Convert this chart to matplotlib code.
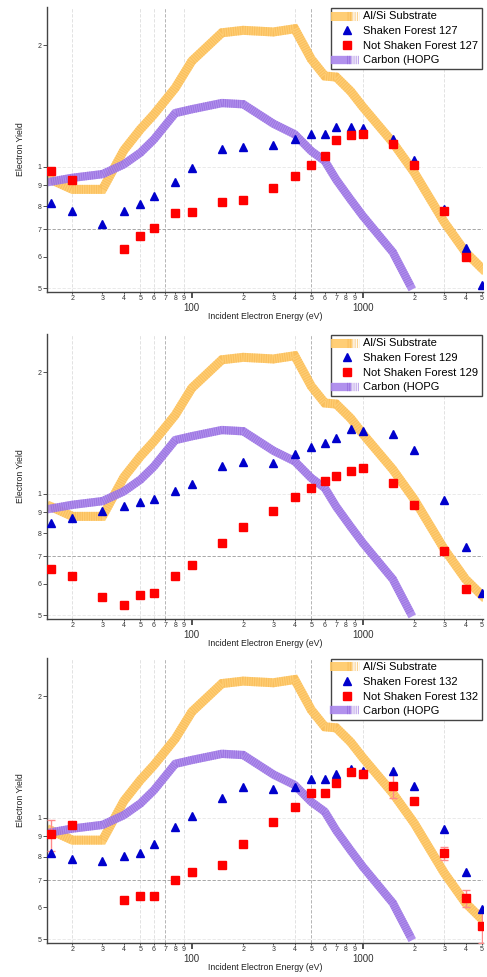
import matplotlib
matplotlib.use("Agg")
import matplotlib.pyplot as plt
from matplotlib.ticker import FixedLocator, FixedFormatter
from matplotlib.legend_handler import HandlerTuple

plt.rcParams["font.family"] = ["Liberation Sans", "DejaVu Sans"]

# Reference curves (same on every panel)
SUB_E = [15, 20, 30, 40, 50, 60, 80, 100, 150, 200, 300, 400, 500, 600, 700,
         850, 1000, 1500, 2000, 3000, 4000, 5000]
SUB_Y = [0.93, 0.88, 0.88, 1.10, 1.24, 1.35, 1.57, 1.83, 2.15, 2.18, 2.16, 2.20,
         1.85, 1.68, 1.67, 1.54, 1.41, 1.15, 0.97, 0.73, 0.615, 0.56]

HOPG_E = [15, 20, 30, 40, 50, 60, 80, 100, 150, 200, 300, 400, 500, 600, 700,
          850, 1000, 1500, 1900]
HOPG_Y = [0.92, 0.94, 0.96, 1.015, 1.085, 1.17, 1.36, 1.39, 1.44, 1.43, 1.28,
          1.205, 1.095, 1.035, 0.93, 0.83, 0.757, 0.615, 0.508]

# Forest 127
F127_SH_E = [15, 20, 30, 40, 50, 60, 80, 100, 150, 200, 300, 400, 500, 600, 700,
             850, 1000, 1500, 2000, 3000, 4000, 5000]
F127_SH_Y = [0.814, 0.776, 0.722, 0.779, 0.810, 0.845, 0.917, 0.994, 1.106, 1.123,
             1.131, 1.175, 1.204, 1.209, 1.256, 1.256, 1.246, 1.171, 1.041, 0.789,
             0.629, 0.510]
F127_NS_E = [15, 20, 40, 50, 60, 80, 100, 150, 200, 300, 400, 500, 600, 700,
             850, 1000, 1500, 2000, 3000, 4000]
F127_NS_Y = [0.977, 0.931, 0.626, 0.675, 0.707, 0.770, 0.774, 0.817, 0.828, 0.886,
             0.950, 1.010, 1.065, 1.164, 1.202, 1.209, 1.138, 1.014, 0.777, 0.597]

# Forest 129
F129_SH_E = [15, 20, 30, 40, 50, 60, 80, 100, 150, 200, 300, 400, 500, 600, 700,
             850, 1000, 1500, 2000, 3000, 4000, 5000]
F129_SH_Y = [0.849, 0.872, 0.909, 0.936, 0.955, 0.972, 1.019, 1.058, 1.172, 1.199,
             1.190, 1.259, 1.309, 1.339, 1.375, 1.449, 1.432, 1.411, 1.284, 0.966,
             0.738, 0.567]
F129_NS_E = [15, 20, 30, 40, 50, 60, 80, 100, 150, 200, 300, 400, 500, 600, 700,
             850, 1000, 1500, 2000, 3000, 4000]
F129_NS_Y = [0.651, 0.628, 0.557, 0.530, 0.561, 0.570, 0.627, 0.668, 0.755, 0.827,
             0.908, 0.983, 1.032, 1.079, 1.105, 1.137, 1.157, 1.065, 0.941, 0.722,
             0.581]

# Forest 132
F132_SH_E = [15, 20, 30, 40, 50, 60, 80, 100, 150, 200, 300, 400, 500, 600, 700,
             850, 1000, 1500, 2000, 3000, 4000, 5000]
F132_SH_Y = [0.816, 0.792, 0.782, 0.803, 0.820, 0.861, 0.946, 1.010, 1.120, 1.190,
             1.179, 1.190, 1.246, 1.246, 1.284, 1.319, 1.309, 1.304, 1.197, 0.938,
             0.733, 0.593]
F132_NS_E = [15, 20, 40, 50, 60, 80, 100, 150, 200, 300, 400, 500, 600, 700,
             850, 1000, 1500, 2000, 3000, 4000, 5000]
F132_NS_Y = [0.909, 0.959, 0.626, 0.639, 0.639, 0.703, 0.733, 0.765, 0.863, 0.976,
             1.064, 1.153, 1.153, 1.216, 1.297, 1.284, 1.197, 1.099, 0.816, 0.632,
             0.540]
F132_NS_ERR = [0.08, 0.0, 0.0, 0.0, 0.0, 0.0, 0.015, 0.0, 0.0, 0.0,
               0.0, 0.0, 0.0, 0.0, 0.02, 0.03, 0.08, 0.0, 0.03, 0.03, 0.05]

PANELS = [
    ("127", F127_SH_E, F127_SH_Y, F127_NS_E, F127_NS_Y, None),
    ("129", F129_SH_E, F129_SH_Y, F129_NS_E, F129_NS_Y, None),
    ("132", F132_SH_E, F132_SH_Y, F132_NS_E, F132_NS_Y, F132_NS_ERR),
]

X_MINOR = [20, 30, 40, 50, 60, 70, 80, 90, 200, 300, 400, 500, 600, 700, 800, 900,
           2000, 3000, 4000, 5000]
X_MINOR_LBL = ["2", "3", "4", "5", "6", "7", "8", "9", "2", "3", "4", "5", "6", "7",
               "8", "9", "2", "3", "4", "5"]
Y_MINOR = [0.5, 0.6, 0.7, 0.8, 0.9]
Y_MINOR_LBL = ["5", "6", "7", "8", "9"]

ORANGE = "#FFC966"
ORANGE_D = "#F7B64E"
PURPLE = "#A985EC"
PURPLE_D = "#8F63DA"


def hatched_line(ax, x, y, base, dark, lw):
    l1, = ax.plot(x, y, color=base, lw=lw, alpha=0.9, solid_joinstyle="miter",
                  zorder=2)
    l2, = ax.plot(x, y, color=dark, lw=lw, alpha=0.6, dashes=(0.13, 0.13),
                  dash_capstyle="butt", zorder=2)
    return (l1, l2)


fig = plt.figure(figsize=(4.87, 9.77), dpi=100)
bottoms = [0.7011, 0.3664, 0.035]
height = 0.2917

for (num, sh_e, sh_y, ns_e, ns_y, ns_err), b in zip(PANELS, bottoms):
    ax = fig.add_axes([0.0965, b, 0.895, height])
    ax.set_xscale("log")
    ax.set_yscale("log")
    ax.set_xlim(14.2, 5050)
    ax.set_ylim(0.49, 2.49)

    # faint grid lines
    for xv in [20, 50, 60, 90, 400, 1000, 3000]:
        ax.axvline(xv, color="#dddddd", lw=0.6, ls=(0, (4, 2)), zorder=0)
    for xv in [70, 500]:
        ax.axvline(xv, color="#aaaaaa", lw=0.6, ls=(0, (4, 2)), zorder=0)
    ax.axhline(0.7, color="#999999", lw=0.6, ls=(0, (4, 2)), zorder=0)
    for yv in [0.5, 1.0]:
        ax.axhline(yv, color="#e6e6e6", lw=0.6, ls=(0, (4, 2)), zorder=0)

    h_sub = hatched_line(ax, SUB_E, SUB_Y, ORANGE, ORANGE_D, 6.5)
    h_hopg = hatched_line(ax, HOPG_E, HOPG_Y, PURPLE, PURPLE_D, 6.0)

    h_sh, = ax.plot(sh_e, sh_y, ls="none", marker="^", ms=5.5, color="#0000CC",
                    mec="#0000CC", zorder=4)
    if ns_err is not None:
        ax.errorbar(ns_e, ns_y, yerr=ns_err, ls="none", ecolor="#FF8A8A",
                    elinewidth=1.0, capsize=3, capthick=1.0, zorder=3)
    h_ns, = ax.plot(ns_e, ns_y, ls="none", marker="s", ms=5.5, color="#FF0000",
                    mec="#FF0000", zorder=5)

    ax.xaxis.set_major_locator(FixedLocator([100, 1000]))
    ax.xaxis.set_major_formatter(FixedFormatter(["100", "1000"]))
    ax.xaxis.set_minor_locator(FixedLocator(X_MINOR))
    ax.xaxis.set_minor_formatter(FixedFormatter(X_MINOR_LBL))
    ax.yaxis.set_major_locator(FixedLocator([1, 2]))
    ax.yaxis.set_major_formatter(FixedFormatter(["1", "2"]))
    ax.yaxis.set_minor_locator(FixedLocator(Y_MINOR))
    ax.yaxis.set_minor_formatter(FixedFormatter(Y_MINOR_LBL))

    ax.tick_params(axis="x", which="major", length=4, width=1.2, labelsize=7,
                   pad=4.2, colors="#333333")
    ax.tick_params(axis="x", which="minor", length=1.5, width=0.6, labelsize=5,
                   pad=1, colors="#333333")
    ax.tick_params(axis="y", which="major", length=3, width=0.6, labelsize=5,
                   pad=1, colors="#333333")
    ax.tick_params(axis="y", which="minor", length=3, width=0.6, labelsize=5,
                   pad=1, colors="#333333")

    for side in ["top", "right"]:
        ax.spines[side].set_visible(False)
    for side in ["left", "bottom"]:
        ax.spines[side].set_color("#444444")
        ax.spines[side].set_linewidth(1.0)

    ax.set_ylabel("Electron Yield", fontsize=6.3, labelpad=9, color="#222222")
    ax.set_xlabel("Incident Electron Energy (eV)", fontsize=6.3, labelpad=-1,
                  color="#222222")

    leg = ax.legend([h_sub, h_sh, h_ns, h_hopg],
                    ["Al/Si Substrate", "Shaken Forest " + num,
                     "Not Shaken Forest " + num, "Carbon (HOPG"],
                    handler_map={tuple: HandlerTuple(ndivide=None, pad=0)},
                    loc="upper right", bbox_to_anchor=(1.0, 1.0), fontsize=8,
                    frameon=True, fancybox=False, framealpha=1,
                    edgecolor="#444444", borderpad=0.3, labelspacing=0.42,
                    handlelength=2.2, handletextpad=0.4, borderaxespad=0.1)
    leg.get_frame().set_linewidth(1.0)

fig.savefig("out.png", dpi=100)
